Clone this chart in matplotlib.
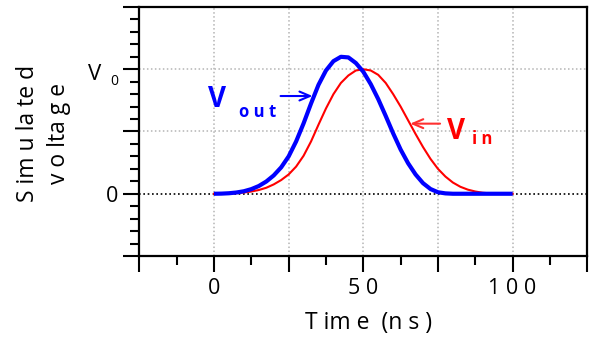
import matplotlib
matplotlib.use("Agg")
import matplotlib.pyplot as plt
from matplotlib.ticker import MultipleLocator

plt.rcParams['font.family'] = ['Open Sans', 'DejaVu Sans']

# ---- data ----
time_ns = [0, 2.5, 5, 7.5, 10, 12.5, 15, 17.5, 20, 22.5,
           25, 27.5, 30, 32.5, 35, 37.5, 40, 42.5, 45, 47.5,
           50, 52.5, 55, 57.5, 60, 62.5, 65, 67.5, 70, 72.5,
           75, 77.5, 80, 82.5, 85, 87.5, 90, 92.5, 95, 97.5, 100]
v_in = [0.0, 0.001, 0.002, 0.005, 0.010, 0.018, 0.030, 0.048, 0.075, 0.110,
        0.155, 0.218, 0.305, 0.420, 0.555, 0.685, 0.800, 0.890, 0.950, 0.990,
        1.000, 0.990, 0.955, 0.890, 0.800, 0.700, 0.590, 0.480, 0.375, 0.280,
        0.200, 0.138, 0.090, 0.056, 0.033, 0.018, 0.008, 0.003, 0.001, 0.0, 0.0]
v_out = [0.0, 0.001, 0.004, 0.010, 0.020, 0.037, 0.062, 0.098, 0.147, 0.212,
         0.300, 0.420, 0.565, 0.725, 0.875, 0.990, 1.065, 1.100, 1.095, 1.050,
         0.980, 0.880, 0.760, 0.625, 0.485, 0.355, 0.245, 0.155, 0.085, 0.038,
         0.012, 0.003, 0.0, 0.0, 0.0, 0.0, 0.0, 0.0, 0.0, 0.0, 0.0]

x_tick_values = [0, 50, 100]
x_tick_labels = ["0", "5 0", "1 0 0"]
x_grid_values = [0, 25, 50, 75, 100]
y_grid_values = [0.5, 1.0]
y_tick_values = [0, 1]
y_tick_labels = ["0", ""]

fig = plt.figure(figsize=(6.0, 3.38), dpi=100)
ax = fig.add_axes([0.2322, 0.2426, 0.7466, 0.7367])

ax.set_xlim(-25, 125)
ax.set_ylim(-0.5, 1.5)

# grid
for gx in x_grid_values:
    ax.axvline(gx, color='#b4b4b4', lw=1.1, ls=(0, (1, 1.6)), zorder=1)
for gy in y_grid_values:
    ax.axhline(gy, color='#b4b4b4', lw=1.1, ls=(0, (1, 1.6)), zorder=1)
ax.axhline(0, color='black', lw=1.2, ls=(0, (1, 1.6)), zorder=2)

ax.plot(time_ns, v_in, color='#ff0000', lw=1.5, zorder=3)
ax.plot(time_ns, v_out, color='#0000ff', lw=3.0, zorder=4, solid_capstyle='butt')

# ticks
ax.xaxis.set_major_locator(MultipleLocator(25))
ax.xaxis.set_minor_locator(MultipleLocator(12.5))
ax.yaxis.set_major_locator(MultipleLocator(0.5))
ax.yaxis.set_minor_locator(MultipleLocator(0.1))
ax.tick_params(which='major', direction='out', length=11.5, width=1.5, colors='black')
ax.tick_params(which='minor', direction='out', length=6.3, width=1.5)
ax.tick_params(axis='both', labelsize=15.5, pad=4)

xt = [t for t in ax.get_xticks() if -25 <= t <= 125]
ax.set_xticks(xt)
ax.set_xticklabels(["" if t not in x_tick_values else x_tick_labels[x_tick_values.index(t)]
                    for t in xt])
yt = [t for t in ax.get_yticks() if -0.5 <= t <= 1.5]
ax.set_yticks(yt)
ax.set_yticklabels(["" if t not in y_tick_values else y_tick_labels[y_tick_values.index(t)]
                    for t in yt])

for s in ax.spines.values():
    s.set_linewidth(1.6)

# V0 tick label (V with subscript 0)
ytr = ax.get_yaxis_transform()
ax.annotate("V", xy=(0, 1.0), xycoords=ytr, xytext=(-37, -8), textcoords='offset points',
            ha='left', va='baseline', fontsize=16, annotation_clip=False)
ax.annotate("0", xy=(0, 1.0), xycoords=ytr, xytext=(-21, -11.5), textcoords='offset points',
            ha='left', va='baseline', fontsize=10, annotation_clip=False)

# axis labels
fig.text(43.5 / 600, 1 - 133 / 338, "S im u la te d\nv o lta g e", rotation=90,
         ha='center', va='center', multialignment='center', fontsize=16.5, linespacing=1.4)
fig.text(369 / 600, 1 - 329 / 338, "T im e  (n s )", ha='center', va='baseline', fontsize=16.5)

# annotations
ax.text(-2.0, 0.697, "V", color='#0000ff', fontsize=20, fontweight='bold',
        ha='left', va='baseline')
ax.text(8.25, 0.616, "o u t", color='#0000ff', fontsize=12, fontweight='bold',
        ha='left', va='baseline')
ax.annotate("", xy=(33.0, 0.785), xytext=(22.3, 0.785),
            arrowprops=dict(arrowstyle="->,head_length=0.75,head_width=0.32",
                            color='#0000ff', lw=1.5, shrinkA=0, shrinkB=0))

ax.text(77.9, 0.442, "V", color='#ff0000', fontsize=20, fontweight='bold',
        ha='left', va='baseline')
ax.text(86.3, 0.397, "i n", color='#ff0000', fontsize=12, fontweight='bold',
        ha='left', va='baseline')
ax.annotate("", xy=(65.7, 0.563), xytext=(75.7, 0.563),
            arrowprops=dict(arrowstyle="->,head_length=0.75,head_width=0.32",
                            color='#ff3030', lw=1.5, shrinkA=0, shrinkB=0))

fig.savefig("out.png", dpi=100)
